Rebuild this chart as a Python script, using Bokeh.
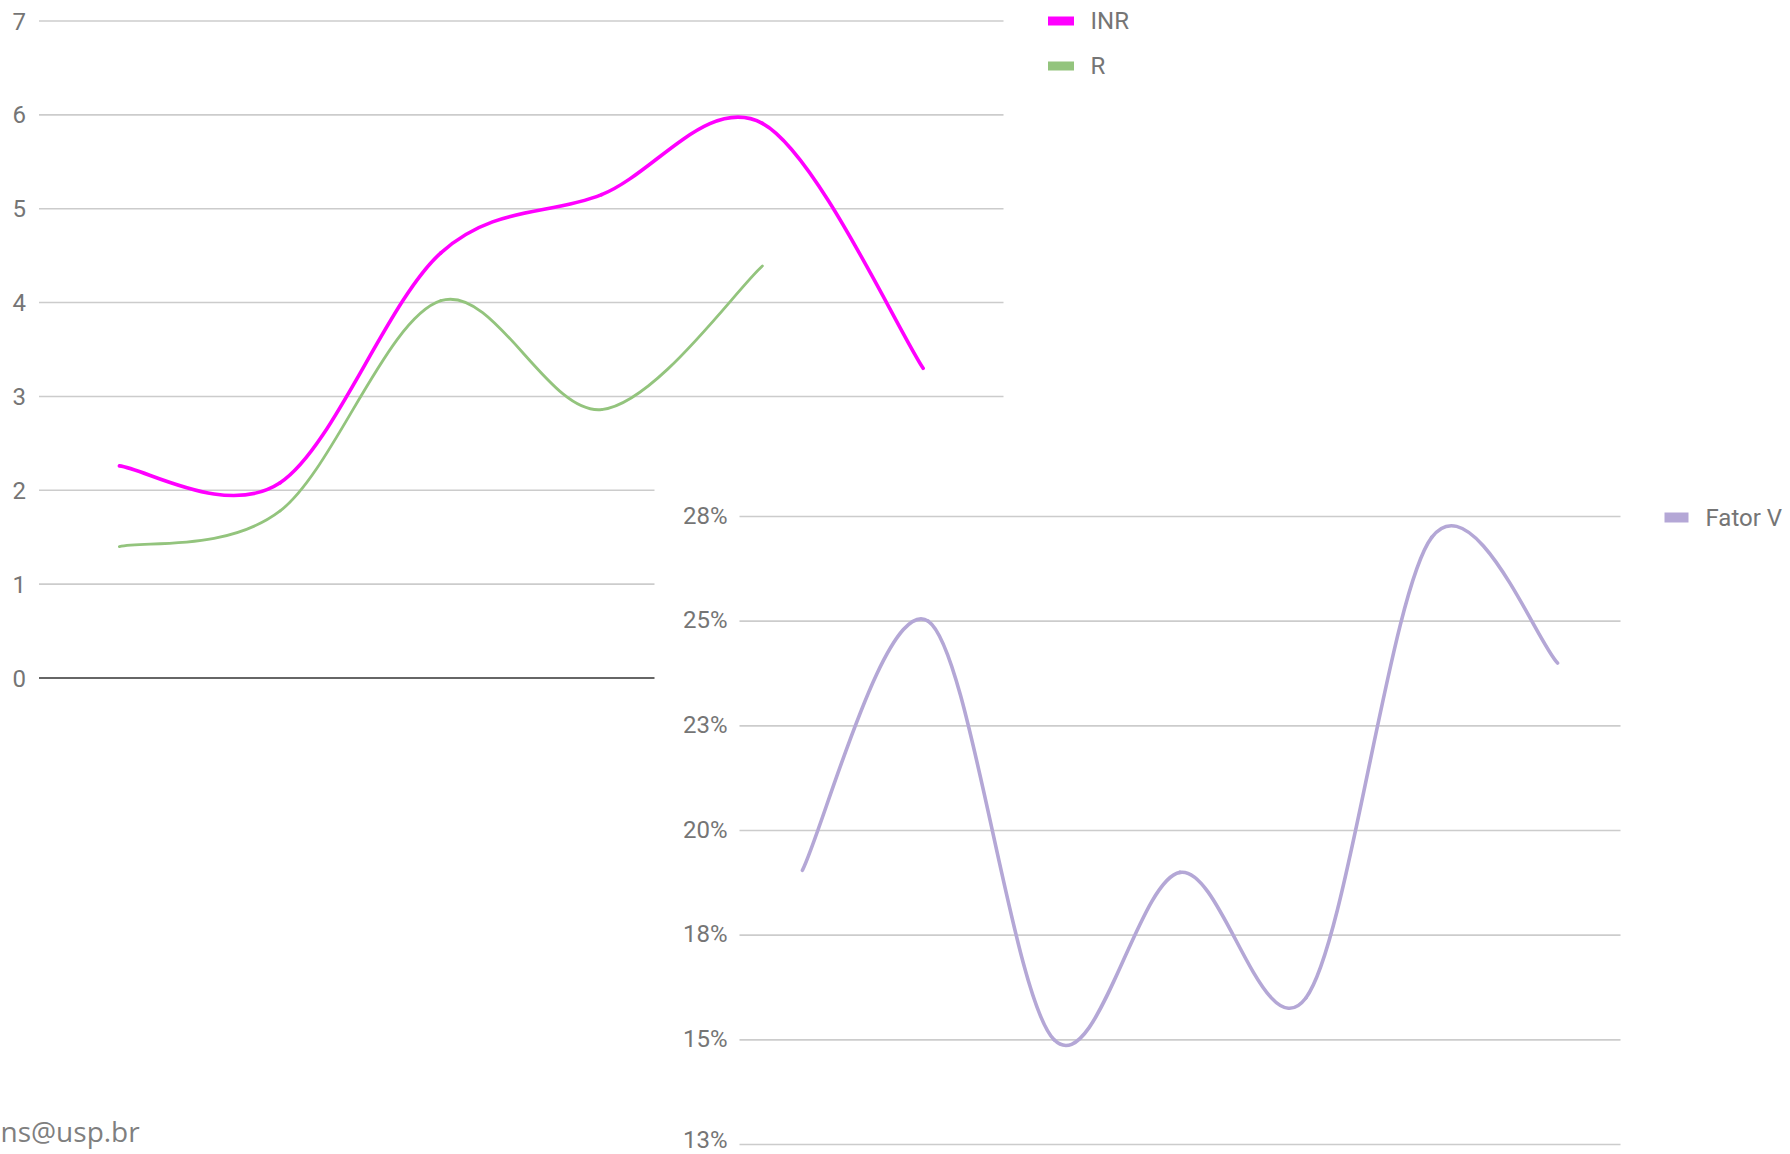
from bokeh.plotting import figure
from bokeh.models import Range1d
from bokeh.core.properties import value
from bokeh.embed import file_html
from bokeh.resources import INLINE

# ---------------- data ----------------
inr = [2.26, 2.08, 4.53, 5.15, 5.91, 3.30]
r_time = [1.40, 1.78, 4.02, 2.86, 4.39]
coag_ticks = [0, 1, 2, 3, 4, 5, 6, 7]
coag_tick_labels = ["0", "1", "2", "3", "4", "5", "6", "7"]

fator_v = [19.05, 25.0, 15.0, 19.0, 16.0, 27.0, 24.0]
fv_ticks = [12.5, 15.0, 17.5, 20.0, 22.5, 25.0, 27.5]
fv_tick_labels = ["13%", "15%", "18%", "20%", "23%", "25%", "28%"]

series_names = ["INR", "R", "Fator V"]
series_colors = ["#ff00ff", "#93c47d", "#b4a7d6"]
footer_text = "ns@usp.br"

# ---------------- page geometry ----------------
W, H = 1790, 1154
GRID = "#cccccc"
LABEL = "#757575"
FONT = value("Roboto")


def span_x(lo, hi, px_lo, px_hi):
    """Range over the whole canvas width so that lo..hi lands on px_lo..px_hi."""
    k = (hi - lo) / (px_hi - px_lo)
    start = lo - px_lo * k
    return Range1d(start, start + W * k)


def span_y(lo, hi, px_lo, px_hi):
    """Same for the vertical axis; pixels counted from the top edge."""
    k = (hi - lo) / (px_lo - px_hi)
    end = hi + px_hi * k
    return Range1d(end - H * k, end)


def at_x(rng, px):
    return rng.start + px * (rng.end - rng.start) / W


def at_y(rng, py):
    return rng.end - py * (rng.end - rng.start) / H


def smooth(ys, k=1.0 / 6.0):
    """Cubic Bezier pieces through the points (cardinal spline)."""
    xs = list(range(len(ys)))
    n = len(ys)
    seg = dict(x0=[], y0=[], x1=[], y1=[], cx0=[], cy0=[], cx1=[], cy1=[])
    for i in range(n - 1):
        xp, yp = (xs[i - 1], ys[i - 1]) if i > 0 else (xs[i], ys[i])
        xq, yq = (xs[i + 2], ys[i + 2]) if i + 2 < n else (xs[i + 1], ys[i + 1])
        seg["x0"].append(xs[i]); seg["y0"].append(ys[i])
        seg["x1"].append(xs[i + 1]); seg["y1"].append(ys[i + 1])
        seg["cx0"].append(xs[i] + k * (xs[i + 1] - xp))
        seg["cy0"].append(ys[i] + k * (ys[i + 1] - yp))
        seg["cx1"].append(xs[i + 1] - k * (xq - xs[i]))
        seg["cy1"].append(ys[i + 1] - k * (yq - ys[i]))
    return seg


# coagulation chart (upper left)
n_top = len(inr)
top_x = span_x(-0.5, n_top - 0.5, 38.5, 1003)
top_y = span_y(0, 7, 677.5, 20.5)

# factor V chart (lower right)
n_fv = len(fator_v)
fv_x = span_x(-0.5, n_fv - 0.5, 739, 1620)
fv_y = span_y(12.5, 27.5, 1144, 516)

p = figure(width=W, height=H, x_range=top_x, y_range=top_y,
           output_backend="svg", toolbar_location=None,
           x_axis_type=None, y_axis_type=None, min_border=0)
p.outline_line_color = None
p.background_fill_color = "white"
p.border_fill_color = "white"
p.extra_x_ranges = {"fv": fv_x}
p.extra_y_ranges = {"fv": fv_y}

# ---- coagulation chart ----
grid_vals = [t for t in coag_ticks if t != 0]
p.segment(x0=[-0.5] * len(grid_vals), x1=[n_top - 0.5] * len(grid_vals),
          y0=grid_vals, y1=grid_vals, line_color=GRID, line_width=1.6)
p.segment(x0=[-0.5], x1=[n_top - 0.5], y0=[0], y1=[0],
          line_color="#333333", line_width=1.6)
p.text(x=[-0.5] * len(coag_ticks), y=coag_ticks, text=coag_tick_labels,
       x_offset=-13, text_align="right", text_baseline="middle",
       text_font=FONT, text_font_size="24px", text_color=LABEL)

p.bezier(line_color=series_colors[0], line_width=3.6, line_cap="round", **smooth(inr))
p.bezier(line_color=series_colors[1], line_width=2.8, line_cap="round", **smooth(r_time))

# legend of the coagulation chart
leg_x = at_x(top_x, 1060.5)
leg_tx = at_x(top_x, 1090)
leg_y = [at_y(top_y, 20.5), at_y(top_y, 65.5)]
p.rect(x=[leg_x, leg_x], y=leg_y, width=26, height=9,
       width_units="screen", height_units="screen",
       fill_color=series_colors[:2], line_color=None)
p.text(x=[leg_tx, leg_tx], y=leg_y, text=series_names[:2],
       text_align="left", text_baseline="middle",
       text_font=FONT, text_font_size="24px", text_color=LABEL)

# ---- factor V chart, on its own white panel ----
p.quad(left=[at_x(fv_x, 654)], right=[at_x(fv_x, W)],
       top=[at_y(fv_y, 440)], bottom=[at_y(fv_y, H)],
       fill_color="white", line_color=None,
       x_range_name="fv", y_range_name="fv")
p.segment(x0=[-0.5] * len(fv_ticks), x1=[n_fv - 0.5] * len(fv_ticks),
          y0=fv_ticks, y1=fv_ticks, line_color=GRID, line_width=1.6,
          x_range_name="fv", y_range_name="fv")
# the lowest label sits at the page edge, so it is lifted a little
fv_label_lift = [-5 if t == min(fv_ticks) else -1 for t in fv_ticks]
p.text(x=[-0.5] * len(fv_ticks), y=fv_ticks, text=fv_tick_labels,
       x_offset=-12, y_offset=fv_label_lift,
       text_align="right", text_baseline="middle",
       text_font=FONT, text_font_size="24px", text_color=LABEL,
       x_range_name="fv", y_range_name="fv")

p.bezier(line_color=series_colors[2], line_width=3.6, line_cap="round",
         x_range_name="fv", y_range_name="fv", **smooth(fator_v))

fv_leg_y = at_y(fv_y, 517)
p.rect(x=[at_x(fv_x, 1676)], y=[fv_leg_y], width=24, height=10,
       width_units="screen", height_units="screen",
       fill_color=series_colors[2], line_color=None,
       x_range_name="fv", y_range_name="fv")
p.text(x=[at_x(fv_x, 1705)], y=[fv_leg_y], text=[series_names[2]],
       text_align="left", text_baseline="middle",
       text_font=FONT, text_font_size="24px", text_color=LABEL,
       x_range_name="fv", y_range_name="fv")

# ---- footer ----
p.text(x=[at_x(top_x, 0)], y=[at_y(top_y, 1130)], text=[footer_text],
       text_align="left", text_baseline="alphabetic",
       text_font=value("Open Sans"), text_font_size="28px", text_color="#7f7f7f")

open("out.html", "w").write(file_html(p, INLINE))
